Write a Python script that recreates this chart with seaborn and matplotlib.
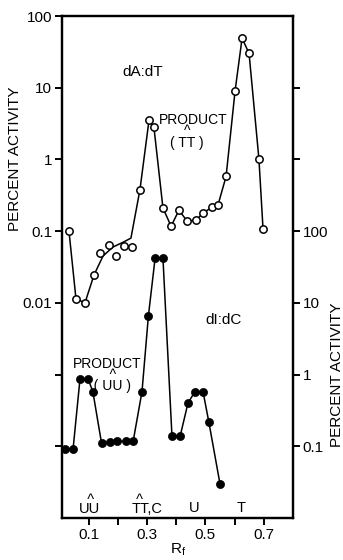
import numpy as np
import pandas as pd
import matplotlib
matplotlib.use("Agg")
import matplotlib.pyplot as plt
import seaborn as sns

# ---- data ----
# dA:dT (open circles, left axis)
rf_open = [0.031, 0.055, 0.086, 0.117, 0.138, 0.169, 0.193, 0.220, 0.248, 0.275,
           0.306, 0.323, 0.354, 0.382, 0.409, 0.437, 0.468, 0.492, 0.523, 0.543,
           0.571, 0.602, 0.626, 0.650, 0.684, 0.698]
act_open = [0.10, 0.0114, 0.010, 0.0245, 0.049, 0.064, 0.045, 0.062, 0.060, 0.38,
            3.5, 2.8, 0.21, 0.117, 0.196, 0.138, 0.142, 0.18, 0.215, 0.23,
            0.58, 9.1, 49.0, 30.0, 1.0, 0.107]
# hand-drawn smooth trace through the scattered low region (0.11-0.25)
rf_trace = [0.031, 0.055, 0.086, 0.117, 0.148, 0.182, 0.217, 0.244, 0.275,
            0.306, 0.323, 0.354, 0.382, 0.409, 0.437, 0.468, 0.492, 0.523, 0.543,
            0.571, 0.602, 0.626, 0.650, 0.684, 0.698]
act_trace = [0.10, 0.0114, 0.010, 0.0245, 0.045, 0.060, 0.070, 0.080, 0.38,
             3.5, 2.8, 0.21, 0.117, 0.196, 0.138, 0.142, 0.18, 0.215, 0.23,
             0.58, 9.1, 49.0, 30.0, 1.0, 0.107]

# dI:dC (filled circles, right axis)
rf_fill = [0.018, 0.045, 0.069, 0.096, 0.113, 0.143, 0.171, 0.197, 0.226, 0.252,
           0.282, 0.304, 0.327, 0.354, 0.385, 0.413, 0.440, 0.464, 0.492, 0.512, 0.550]
act_fill = [0.091, 0.091, 0.88, 0.88, 0.58, 0.11, 0.113, 0.117, 0.118, 0.12,
            0.58, 6.6, 42.0, 42.0, 0.138, 0.138, 0.40, 0.58, 0.57, 0.215, 0.030]

xticks = [0.1, 0.2, 0.3, 0.4, 0.5, 0.6, 0.7]
xticklabels = ["0.1", "", "0.3", "", "0.5", "", "0.7"]
left_ticks = [1e-4, 1e-3, 0.01, 0.1, 1, 10, 100]
left_ticklabels = ["", "", "0.01", "0.1", "1", "10", "100"]
right_ticks = [0.1, 1, 10, 100, 1000, 10000]
right_ticklabels = ["0.1", "1", "10", "100", "", ""]

# ---- style ----
sns.set_style("ticks")
plt.rcParams["font.family"] = ["Liberation Sans", "DejaVu Sans"]
plt.rcParams["mathtext.fontset"] = "custom"
plt.rcParams["mathtext.rm"] = "Liberation Sans"
plt.rcParams["mathtext.it"] = "Liberation Sans"
plt.rcParams["text.color"] = "black"
plt.rcParams["xtick.color"] = "black"
plt.rcParams["ytick.color"] = "black"
plt.rcParams["axes.edgecolor"] = "black"

W, H = 343, 560
fig = plt.figure(figsize=(W / 100, H / 100), dpi=100)
L, R, T, B = 62, 293, 16, 518
ax = fig.add_axes([L / W, 1 - B / H, (R - L) / W, (B - T) / H])
ax2 = ax.twinx()

ax.set_yscale("log")
ax2.set_yscale("log")
ax.set_xlim(0.007, 0.801)
ax.set_ylim(1e-5, 100)
ax2.set_ylim(1e-2, 1e5)

df_open = pd.DataFrame({"rf": rf_open, "act": act_open})
df_trace = pd.DataFrame({"rf": rf_trace, "act": act_trace})
df_fill = pd.DataFrame({"rf": rf_fill, "act": act_fill})

sns.lineplot(data=df_trace, x="rf", y="act", ax=ax, color="black", lw=1.1,
             sort=False, estimator=None)
sns.scatterplot(data=df_open, x="rf", y="act", ax=ax, s=28, facecolor="white",
                edgecolor="black", linewidth=1.1, zorder=3, clip_on=False)
sns.lineplot(data=df_fill, x="rf", y="act", ax=ax2, color="black", lw=1.1,
             sort=False, estimator=None)
sns.scatterplot(data=df_fill, x="rf", y="act", ax=ax2, s=34, color="black",
                edgecolor="black", linewidth=0.5, zorder=3, clip_on=False)

for a in (ax, ax2):
    a.set_xlabel("")
    a.set_ylabel("")
    a.minorticks_off()
    for s in a.spines.values():
        s.set_linewidth(1.6)
        s.set_visible(True)
        s.set_color("black")

ax.set_xticks(xticks)
ax.set_xticklabels(xticklabels, fontsize=11)
ax.set_yticks(left_ticks)
ax.set_yticklabels(left_ticklabels, fontsize=11)
ax.yaxis.set_minor_locator(matplotlib.ticker.NullLocator())
ax2.set_yticks(right_ticks)
ax2.set_yticklabels(right_ticklabels, fontsize=11)
ax2.yaxis.set_minor_locator(matplotlib.ticker.NullLocator())
ax.tick_params(axis="both", length=5, width=1.4, pad=2, direction="out", colors="black")
ax2.tick_params(axis="y", length=5, width=1.4, pad=2, direction="out", colors="black")
ax.set_ylim(1e-5, 100)
ax2.set_ylim(1e-2, 1e5)


def ftext(x, y, s, size=10, **kw):
    fig.text(x / W, 1 - y / H, s, fontsize=size, ha="center", va="center",
             color="black", **kw)


def block_text(x, y, lines, size, ls, ha="center"):
    # multi-line label anchored at the baseline of its last line
    fig.text(x / W, 1 - y / H, "\n".join(lines), fontsize=size, ha=ha,
             va="baseline", color="black", linespacing=ls,
             multialignment=ha)


ftext(15, 159, "PERCENT ACTIVITY", 11, rotation=90)
ftext(337, 375, "PERCENT ACTIVITY", 11, rotation=90)
ftext(143, 72, "dA:dT", 11)
ftext(224, 320, "dI:dC", 11)
block_text(193, 147, ["PRODUCT", "^   ", "( TT )   "], 10, 0.78)
block_text(107, 390, ["PRODUCT", "   ^", "   ( UU )"], 10, 0.75)
block_text(79, 513, ["  ^", "UU"], 10.5, 0.58, ha="left")
block_text(132, 513, [" ^", "TT,C"], 10.5, 0.58, ha="left")
ftext(194, 508, "U", 10.5)
ftext(241, 508, "T", 10.5)
ftext(178, 550, r"R$_f$", 11)

fig.savefig("out.png", dpi=100)
